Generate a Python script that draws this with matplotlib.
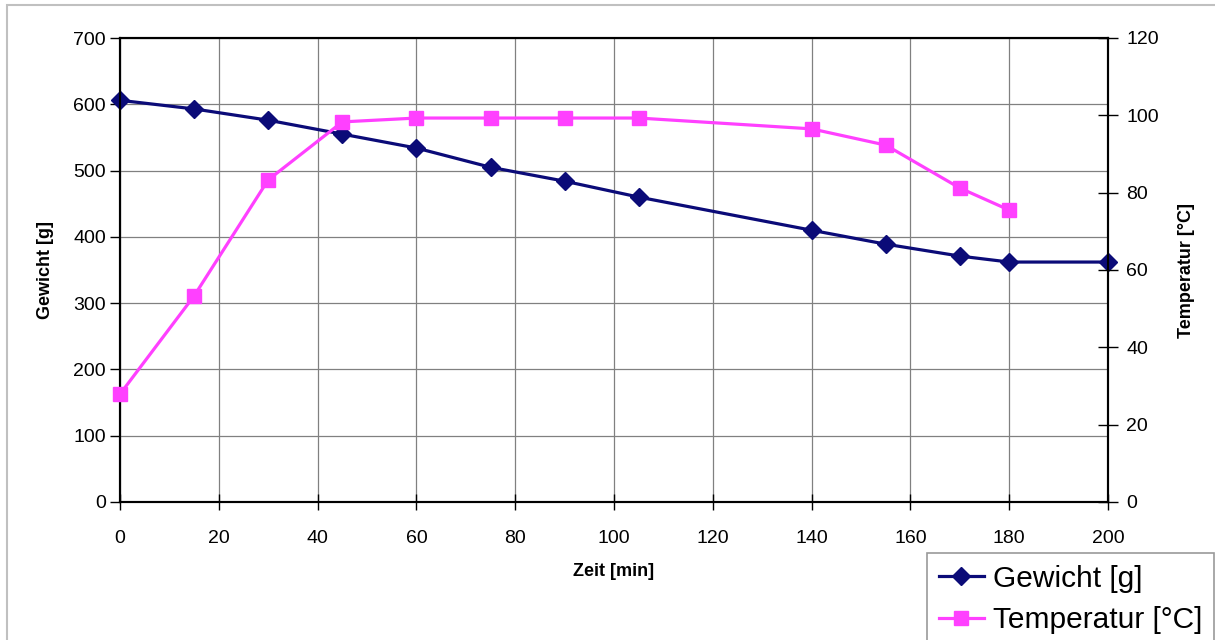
import matplotlib
matplotlib.use("Agg")
import matplotlib.pyplot as plt
from matplotlib.patches import Rectangle

plt.rcParams['font.family'] = ['Liberation Sans', 'DejaVu Sans']

zeit = [0, 15, 30, 45, 60, 75, 90, 105, 140, 155, 170, 180, 200]
gewicht = [606, 593, 576, 555, 534, 505, 484, 460, 410, 389, 371, 362, 362]
zeit_temp = [0, 15, 30, 45, 60, 75, 90, 105, 140, 155, 170, 180]
temperatur = [27.9, 53.3, 83.3, 98.3, 99.3, 99.3, 99.3, 99.3, 96.5, 92.3, 81.2, 75.5]

x_ticks = list(range(0, 201, 20))
y_left_ticks = list(range(0, 701, 100))
y_right_ticks = list(range(0, 121, 20))

W, H = 1215, 640
fig = plt.figure(figsize=(W / 100, H / 100), dpi=100)

# outer chart frame
fig.patches.append(Rectangle((7 / W, -0.1), 1.2, 1 - 5 / H + 0.1, transform=fig.transFigure,
                             fill=False, edgecolor='#c0c0c0', linewidth=1.5, zorder=0))

ax = fig.add_axes([120 / W, 1 - 502 / H, (1108 - 120) / W, (502 - 38) / H])
ax2 = ax.twinx()

navy = '#0b0b78'
magenta = '#ff40ff'

l1, = ax.plot(zeit, gewicht, color=navy, lw=2.3, marker='D', ms=9.5,
              markeredgecolor=navy, markerfacecolor=navy, label='Gewicht [g]', clip_on=False, zorder=3)
l2, = ax2.plot(zeit_temp, temperatur, color=magenta, lw=2.3, marker='s', ms=10,
               markeredgecolor=magenta, markerfacecolor=magenta, label='Temperatur [°C]', clip_on=False, zorder=3)

ax.set_xlim(0, 200)
ax.set_ylim(0, 700)
ax2.set_ylim(0, 120)
ax.set_xticks(x_ticks)
ax.set_yticks(y_left_ticks)
ax2.set_yticks(y_right_ticks)

ax.grid(True, color='#808080', lw=0.9)
ax.set_axisbelow(True)

for a in (ax, ax2):
    for s in a.spines.values():
        s.set_linewidth(1.5)
        s.set_color('black')

ax.tick_params(axis='y', direction='out', length=7, width=1, labelsize=14, pad=3)
ax.tick_params(axis='x', direction='inout', length=12, width=1, labelsize=14, pad=14)
ax2.tick_params(axis='y', direction='inout', length=14, width=1, labelsize=14, pad=6)

ax.set_xlabel('Zeit [min]', fontsize=13, fontweight='bold', labelpad=12)
ax.set_ylabel('Gewicht [g]', fontsize=13, fontweight='bold', labelpad=14)
ax2.set_ylabel('Temperatur [°C]', fontsize=13, fontweight='bold', labelpad=14)

leg = fig.legend(handles=[l1, l2], loc='upper left', bbox_to_anchor=(927 / W, 1 - 553 / H),
                 bbox_transform=fig.transFigure, fontsize=21.5, frameon=True, fancybox=False,
                 edgecolor='#808080', borderaxespad=0, borderpad=0.4, handlelength=1.5,
                 handletextpad=0.3, labelspacing=0.45)
leg.get_frame().set_linewidth(1.2)

fig.savefig('out.png', dpi=100)
